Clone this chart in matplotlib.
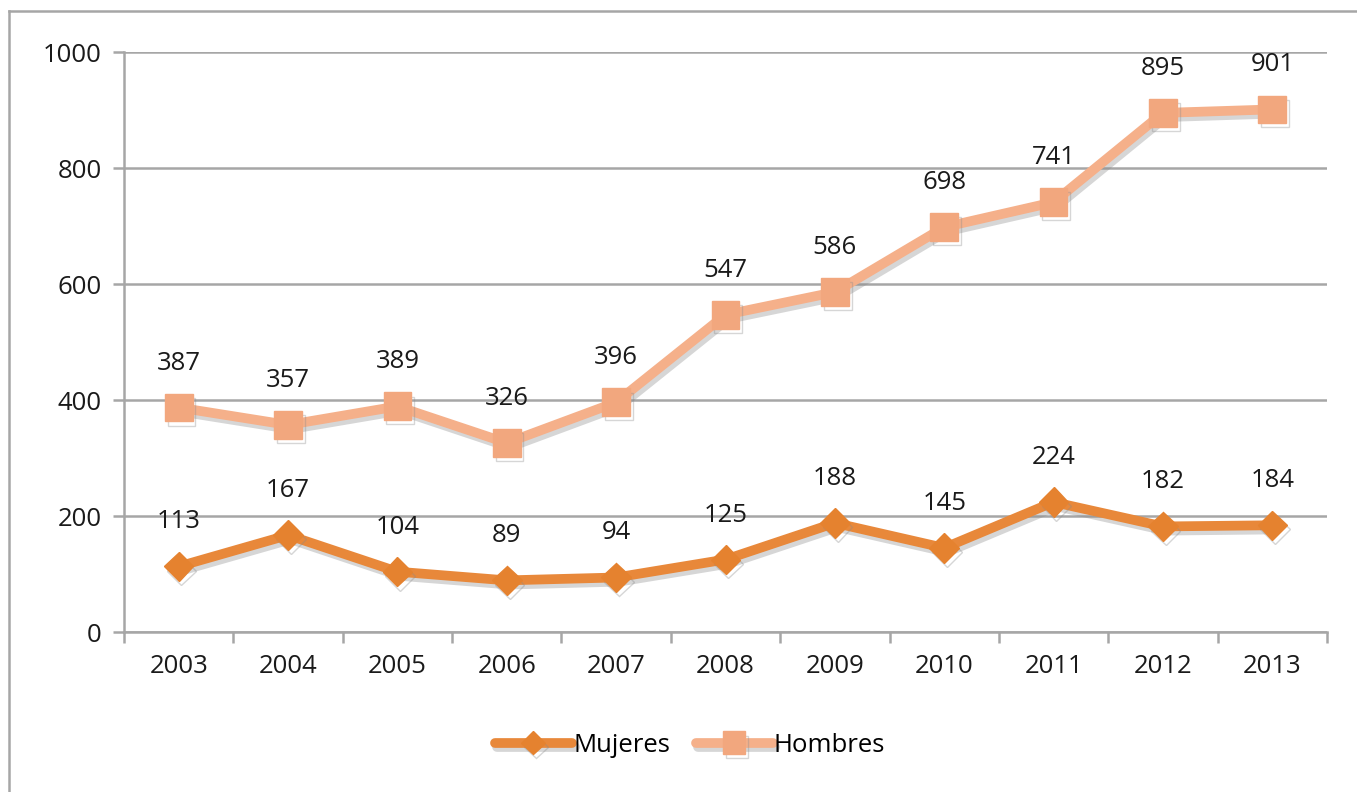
import matplotlib
matplotlib.use("Agg")
import matplotlib.pyplot as plt
import matplotlib.patheffects as pe
import numpy as np

years = ["2003", "2004", "2005", "2006", "2007", "2008", "2009", "2010", "2011", "2012", "2013"]
mujeres = [113, 167, 104, 89, 94, 125, 188, 145, 224, 182, 184]
hombres = [387, 357, 389, 326, 396, 547, 586, 698, 741, 895, 901]
yticks = [0, 200, 400, 600, 800, 1000]

plt.rcParams['font.family'] = ['Open Sans', 'DejaVu Sans']

W, H = 1357, 792
fig = plt.figure(figsize=(W / 100, H / 100), dpi=100)
ax = fig.add_axes([124 / W, 1 - 632 / H, (1327 - 124) / W, (632 - 52) / H])

grid_c = '#a6a6a6'
c_muj = '#E8883A'
c_hom = '#F5B08A'
fs = 18.5
x = np.arange(len(years))

shadow = [pe.SimpleLineShadow(offset=(2, -3), shadow_color='#8a8a8a', alpha=0.35), pe.Normal()]

ax.plot(x, hombres, color=c_hom, lw=7, marker='s', ms=20, mfc='#F2A77E', mec='#F2A77E',
        solid_capstyle='round', zorder=3, path_effects=shadow, label='Hombres')
ax.plot(x, mujeres, color=c_muj, lw=7, marker='D', ms=15, mfc='#E5822F', mec='#E5822F',
        solid_capstyle='round', zorder=3, path_effects=shadow, label='Mujeres')

for xi, v in zip(x, hombres):
    ax.annotate(str(v), (xi, v), xytext=(0, 32), textcoords='offset pixels',
                ha='center', va='bottom', fontsize=fs, color='#1a1a1a')
for xi, v in zip(x, mujeres):
    ax.annotate(str(v), (xi, v), xytext=(0, 32), textcoords='offset pixels',
                ha='center', va='bottom', fontsize=fs, color='#1a1a1a')

ax.set_xlim(-0.5, len(years) - 0.5)
ax.set_ylim(0, 1000)
ax.set_yticks(yticks)
ax.set_yticklabels([str(t) for t in yticks], fontsize=fs, color='#1a1a1a')
ax.yaxis.grid(True, color=grid_c, lw=1.8)
ax.set_axisbelow(True)

ax.set_xticks(x)
ax.set_xticklabels(years, fontsize=fs, color='#1a1a1a')
ax.tick_params(axis='x', which='major', length=0, pad=16)
ax.set_xticks(np.arange(-0.5, len(years)), minor=True)
ax.tick_params(axis='x', which='minor', length=8, width=1.8, color=grid_c, direction='out')
ax.tick_params(axis='y', length=8, width=1.8, color=grid_c, direction='out', pad=8)

for s in ['top', 'right']:
    ax.spines[s].set_visible(False)
for s in ['left', 'bottom']:
    ax.spines[s].set_color(grid_c)
    ax.spines[s].set_linewidth(1.8)

handles, labels = ax.get_legend_handles_labels()
order = [1, 0]
leg = fig.legend([handles[i] for i in order], [labels[i] for i in order],
                 loc='center', bbox_to_anchor=(690 / W, 1 - 745 / H), ncol=2,
                 frameon=False, fontsize=fs, handlelength=3.0, handletextpad=0.05,
                 columnspacing=1.0, markerscale=0.8)

# outer border (left and top only visible)
fig.add_artist(plt.Line2D([9 / W, 9 / W], [0, 1 - 11 / H], color=grid_c, lw=1.8, transform=fig.transFigure))
fig.add_artist(plt.Line2D([9 / W, 1], [1 - 11 / H, 1 - 11 / H], color=grid_c, lw=1.8, transform=fig.transFigure))

fig.savefig('out.png', dpi=100)
